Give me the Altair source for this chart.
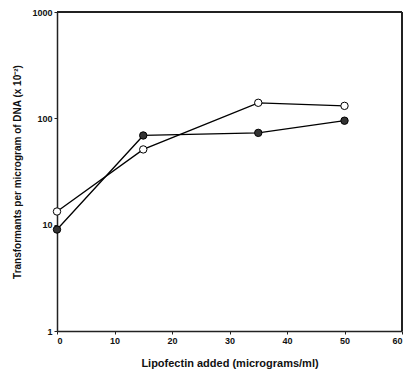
import altair as alt
import pandas as pd

# Data
lipofectin = [0, 15, 35, 50]
open_series = [13.3, 51, 140, 131]
filled_series = [9.0, 69, 73, 95]
series_names = ["open", "filled"]
x_ticks = [0, 10, 20, 30, 40, 50, 60]
y_ticks = [1, 10, 100, 1000]

rows = []
for name, vals in zip(series_names, [open_series, filled_series]):
    for x, v in zip(lipofectin, vals):
        rows.append({"x": x, "y": v, "series": name})
df = pd.DataFrame(rows)

font = "Liberation Sans"

x_enc = alt.X("x:Q", scale=alt.Scale(domain=[0, 60], nice=False),
              axis=alt.Axis(values=x_ticks, title="Lipofectin added (micrograms/ml)",
                            grid=False, tickSize=3, labelFontSize=9, labelFontWeight="bold",
                            titleFontSize=11, titleFontWeight="bold", titlePadding=12,
                            domainColor="#222", domainWidth=1.5, tickColor="#222",
                            labelFont=font, titleFont=font, labelColor="#111", titleColor="#111"))
y_enc = alt.Y("y:Q", scale=alt.Scale(type="log", domain=[1, 1000], nice=False),
              axis=alt.Axis(values=y_ticks, format="d",
                            title="Transformants per microgram of DNA (x 10⁻²)",
                            grid=False, tickSize=3, labelFontSize=9, labelFontWeight="bold",
                            titleFontSize=10, titleFontWeight="bold", titlePadding=9,
                            domainColor="#222", domainWidth=1.5, tickColor="#222",
                            labelFont=font, titleFont=font, labelColor="#111", titleColor="#111"))

base = alt.Chart(df)
frame_top = alt.Chart(df).mark_rule(color="#222", strokeWidth=1.5).encode(
    x=alt.value(0), x2=alt.value(345), y=alt.value(0))
frame_right = alt.Chart(df).mark_rule(color="#222", strokeWidth=1.5).encode(
    x=alt.value(345), y=alt.value(0), y2=alt.value(319))
lines = base.mark_line(color="black", strokeWidth=1.3).encode(
    x=x_enc, y=y_enc, detail="series:N")
points = base.mark_point(filled=True, size=55, stroke="black", strokeWidth=1, opacity=1).encode(
    x=x_enc, y=y_enc,
    fill=alt.Fill("series:N", scale=alt.Scale(domain=series_names, range=["white", "#333333"]),
                  legend=None))

chart = (frame_top + frame_right + lines + points).properties(
    width=345, height=319,
    autosize=alt.AutoSizeParams(type="none"),
    padding={"left": 49, "top": 4, "right": 6, "bottom": 40},
).configure_view(stroke="#222", strokeWidth=1.5).configure(background="white")

chart.save("out.html", embed_options={"renderer": "svg", "actions": False})
